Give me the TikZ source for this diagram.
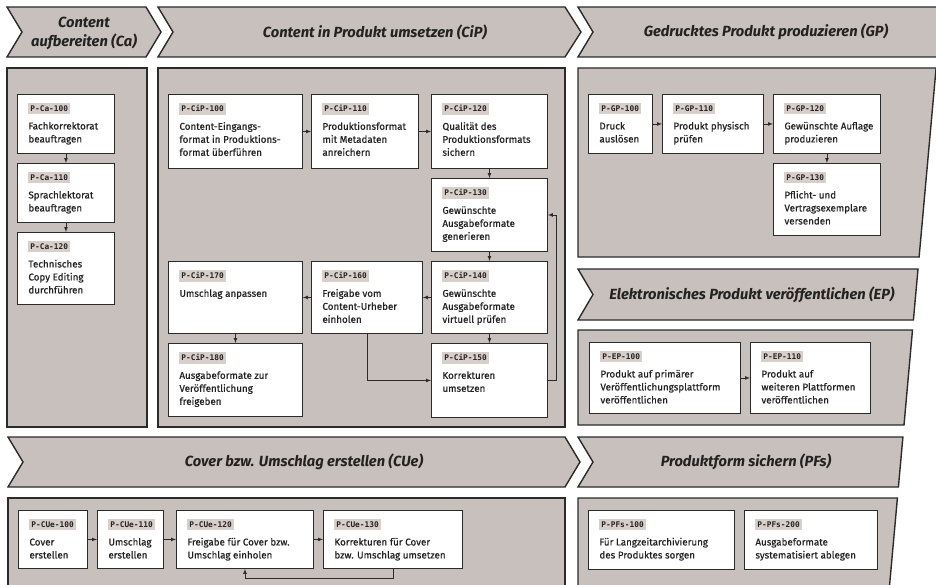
\documentclass[tikz,border=0pt]{standalone}
\usepackage{fontspec}
\setmainfont{Fira Sans}
\newfontfamily\boxfont{Fira Sans}[FakeBold=0.6]
\newfontfamily\tagfont{DejaVu Sans Mono}
\usetikzlibrary{calc}
\definecolor{lanefill}{HTML}{C8C0BC}
\definecolor{tagfill}{HTML}{D8CFCB}
\definecolor{edge}{HTML}{2B2B2B}
\definecolor{ink}{HTML}{222222}
\setlength{\fboxsep}{2pt}
\newcommand{\schritt}[4]{\begin{minipage}[t][#2pt][t]{\dimexpr#1pt-22pt\relax}\vspace*{9pt}\colorbox{tagfill}{\tagfont\bfseries\fontsize{7.8}{9}\selectfont\rule[-1pt]{0pt}{7pt}#3}\\[5pt]\begin{tabular}[t]{@{}l@{}}#4\end{tabular}\end{minipage}}

\begin{document}
\begin{tikzpicture}[x=1pt,y=-1pt,
  lane/.style={fill=lanefill, draw=edge, line width=1.4pt, line join=miter},
  kopf/.style={font=\fontsize{14.7}{19}\selectfont\bfseries\itshape, text=ink, align=center},
  pbox/.style={draw=edge, fill=white, line width=0.9pt, anchor=north west, inner xsep=11pt, inner ysep=0pt, text=ink, font=\boxfont\fontsize{9.8}{13}\selectfont},
  pfeil/.style={-latex, draw=edge, line width=0.7pt}]

\useasboundingbox (0,0) rectangle (936,585);

\draw[lane] (7,7) -- (146,7) -- (161,32) -- (146,57) -- (7,57) -- (22,32) -- cycle;
\draw[lane] (158,7) -- (565,7) -- (581,32) -- (565,57) -- (158,57) -- (173,32) -- cycle;
\draw[lane] (578,7) -- (941.6,7) -- (937.1,57) -- (578,57) -- (593,32) -- cycle;
\draw[lane] (578,269) -- (918,269) -- (913.4,320) -- (578,320) -- (593,294.5) -- cycle;
\draw[lane] (8,437) -- (565,437) -- (580,462) -- (565,487) -- (8,487) -- (23,462) -- cycle;
\draw[lane] (578,437) -- (902.9,437) -- (898.4,487) -- (578,487) -- (593,462) -- cycle;

\draw[lane] (7,68) rectangle (147,427);
\draw[lane] (158,68) rectangle (565,427);
\draw[lane] (578,68) -- (936.1,68) -- (919.1,257) -- (578,257) -- cycle;
\draw[lane] (578,330) -- (912.5,330) -- (904,425) -- (578,425) -- cycle;
\draw[lane] (8,498) rectangle (565,597);
\draw[lane] (578,498) -- (897.4,498) -- (888.5,597) -- (578,597) -- cycle;

\node[kopf] (Ca) at (84,33) {Content\\aufbereiten (Ca)};
\node[kopf] (CiP) at (375,32) {Content in Produkt umsetzen (CiP)};
\node[kopf] (GP) at (766,32) {Gedrucktes Produkt produzieren (GP)};
\node[kopf] (EP) at (752,295) {Elektronisches Produkt veröffentlichen (EP)};
\node[kopf] (CUe) at (304,462) {Cover bzw. Umschlag erstellen (CUe)};
\node[kopf] (PFs) at (746,462) {Produktform sichern (PFs)};

\node[pbox] (Ca100) at (17,94) {\schritt{97}{59}{P-Ca-100}{Fachkorrektorat\\beauftragen}};
\node[pbox] (Ca110) at (17,163) {\schritt{97}{59}{P-Ca-110}{Sprachlektorat\\beauftragen}};
\node[pbox] (Ca120) at (17,232) {\schritt{97}{72}{P-Ca-120}{Technisches\\Copy Editing\\durchführen}};

\node[pbox] (CiP100) at (168,94) {\schritt{134}{74}{P-CiP-100}{Content-Eingangs-\\format in Produktions-\\format überführen}};
\node[pbox] (CiP110) at (311,94) {\schritt{107}{74}{P-CiP-110}{Produktionsformat\\mit Metadaten\\anreichern}};
\node[pbox] (CiP120) at (431,94) {\schritt{116}{74}{P-CiP-120}{Qualität des\\Produktionsformats\\sichern}};
\node[pbox] (CiP130) at (431,178) {\schritt{116}{73}{P-CiP-130}{Gewünschte\\Ausgabeformate\\generieren}};
\node[pbox] (CiP140) at (431,261) {\schritt{116}{72}{P-CiP-140}{Gewünschte\\Ausgabeformate\\virtuell prüfen}};
\node[pbox] (CiP150) at (431,343) {\schritt{116}{74}{P-CiP-150}{Korrekturen\\umsetzen}};
\node[pbox] (CiP160) at (311,261) {\schritt{111}{72}{P-CiP-160}{Freigabe vom\\Content-Urheber\\einholen}};
\node[pbox] (CiP170) at (168,261) {\schritt{134}{72}{P-CiP-170}{Umschlag anpassen}};
\node[pbox] (CiP180) at (168,343) {\schritt{134}{73}{P-CiP-180}{Ausgabeformate zur\\Veröffentlichung\\freigeben}};

\node[pbox] (GP100) at (588,94) {\schritt{64}{59}{P-GP-100}{Druck\\auslösen}};
\node[pbox] (GP110) at (662,94) {\schritt{101}{59}{P-GP-110}{Produkt physisch\\prüfen}};
\node[pbox] (GP120) at (773,94) {\schritt{107}{59}{P-GP-120}{Gewünschte Auflage\\produzieren}};
\node[pbox] (GP130) at (773,163) {\schritt{107}{72}{P-GP-130}{Pflicht- und\\Vertragsexemplare\\versenden}};

\node[pbox] (EP100) at (589,342) {\schritt{151}{71}{P-EP-100}{Produkt auf primärer\\Veröffentlichungsplattform\\veröffentlichen}};
\node[pbox] (EP110) at (750,342) {\schritt{120}{71}{P-EP-110}{Produkt auf\\weiteren Plattformen\\veröffentlichen}};

\node[pbox] (CUe100) at (18,510) {\schritt{69}{58}{P-CUe-100}{Cover\\erstellen}};
\node[pbox] (CUe110) at (97,510) {\schritt{66}{58}{P-CUe-110}{Umschlag\\erstellen}};
\node[pbox] (CUe120) at (176,510) {\schritt{137}{58}{P-CUe-120}{Freigabe für Cover bzw.\\Umschlag einholen}};
\node[pbox] (CUe130) at (323,510) {\schritt{139}{58}{P-CUe-130}{Korrekturen für Cover\\bzw. Umschlag umsetzen}};

\node[pbox] (PFs100) at (588,510) {\schritt{146}{59}{P-PFs-100}{Für Langzeitarchivierung\\des Produktes sorgen}};
\node[pbox] (PFs200) at (744,510) {\schritt{133}{59}{P-PFs-200}{Ausgabeformate\\systematisiert ablegen}};

\draw[pfeil] (Ca100) -- (Ca110);
\draw[pfeil] (Ca110) -- (Ca120);

\draw[pfeil] (CiP100) -- (CiP110);
\draw[pfeil] (CiP110) -- (CiP120);
\draw[pfeil] (CiP120) -- (CiP130);
\draw[pfeil] (CiP130) -- (CiP140);
\draw[pfeil] (CiP140) -- (CiP160);
\draw[pfeil] (CiP160) -- (CiP170);
\draw[pfeil] (CiP170) -- (CiP180);
\draw[pfeil] (CiP140) -- (CiP150);
\draw[pfeil] (CiP160.south) |- (CiP150.west);
\draw[pfeil] (CiP150.east) -- ++(8,0) |- (CiP130.east);

\draw[pfeil] (GP100) -- (GP110);
\draw[pfeil] (GP110) -- (GP120);
\draw[pfeil] (GP120) -- (GP130);

\draw[pfeil] (EP100) -- (EP110);

\draw[pfeil] (CUe100) -- (CUe110);
\draw[pfeil] (CUe110) -- (CUe120);
\draw[pfeil] (CUe120) -- (CUe130);
\draw[pfeil] (CUe130.south) -- ++(0,9) -| (CUe120.south);

\end{tikzpicture}
\end{document}
